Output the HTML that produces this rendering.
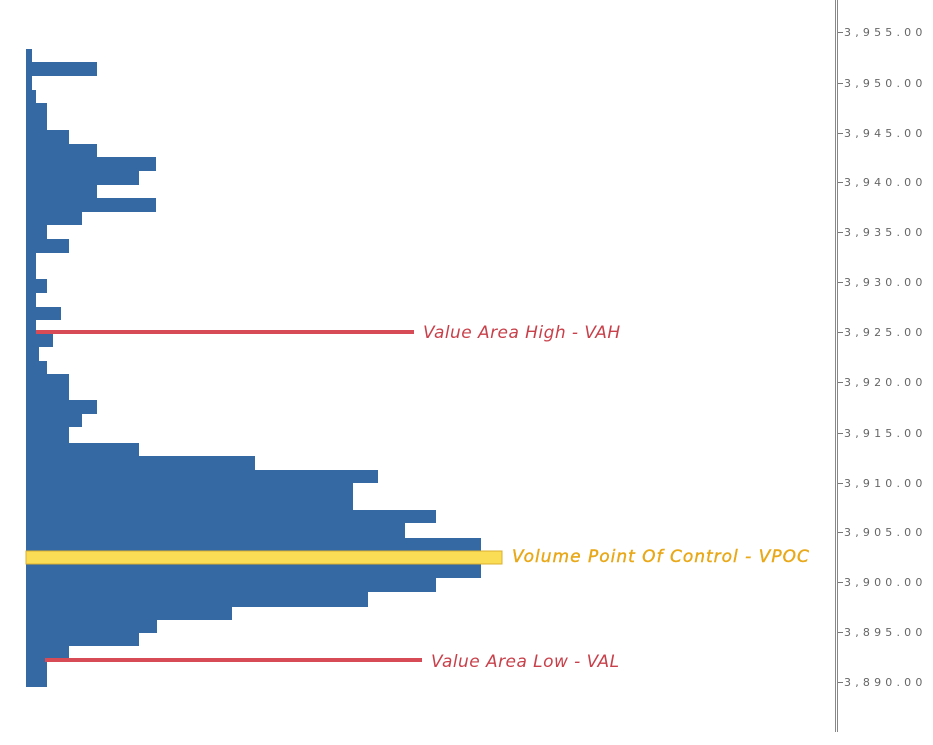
<!DOCTYPE html>
<html><head><meta charset="utf-8"><style>
html,body{margin:0;padding:0;background:#fff;width:933px;height:745px;overflow:hidden}
svg{display:block}
.t{font-family:"DejaVu Sans","Liberation Sans",sans-serif;font-size:11px;fill:#666;letter-spacing:4.2px}
.l{font-family:"DejaVu Sans","Liberation Sans",sans-serif;font-size:17px;font-style:italic;letter-spacing:0.45px}
</style></head><body>
<svg width="933" height="745" viewBox="0 0 933 745">
<g fill="#3469a3">
<rect x="26" y="49" width="6" height="13"/>
<rect x="26" y="62" width="71" height="14"/>
<rect x="26" y="76" width="6" height="14"/>
<rect x="26" y="90" width="10" height="13"/>
<rect x="26" y="103" width="21" height="27"/>
<rect x="26" y="130" width="43" height="14"/>
<rect x="26" y="144" width="71" height="13"/>
<rect x="26" y="157" width="130" height="14"/>
<rect x="26" y="171" width="113" height="14"/>
<rect x="26" y="185" width="71" height="13"/>
<rect x="26" y="198" width="130" height="14"/>
<rect x="26" y="212" width="56" height="13"/>
<rect x="26" y="225" width="21" height="14"/>
<rect x="26" y="239" width="43" height="14"/>
<rect x="26" y="253" width="10" height="26"/>
<rect x="26" y="279" width="21" height="14"/>
<rect x="26" y="293" width="10" height="14"/>
<rect x="26" y="307" width="35" height="13"/>
<rect x="26" y="320" width="10" height="13"/>
<rect x="26" y="333" width="27" height="14"/>
<rect x="26" y="347" width="13" height="14"/>
<rect x="26" y="361" width="21" height="13"/>
<rect x="26" y="374" width="43" height="26"/>
<rect x="26" y="400" width="71" height="14"/>
<rect x="26" y="414" width="56" height="13"/>
<rect x="26" y="427" width="43" height="16"/>
<rect x="26" y="443" width="113" height="13"/>
<rect x="26" y="456" width="229" height="14"/>
<rect x="26" y="470" width="352" height="13"/>
<rect x="26" y="483" width="327" height="27"/>
<rect x="26" y="510" width="410" height="13"/>
<rect x="26" y="523" width="379" height="15"/>
<rect x="26" y="538" width="455" height="40"/>
<rect x="26" y="578" width="410" height="14"/>
<rect x="26" y="592" width="342" height="15"/>
<rect x="26" y="607" width="206" height="13"/>
<rect x="26" y="620" width="131" height="13"/>
<rect x="26" y="633" width="113" height="13"/>
<rect x="26" y="646" width="43" height="14"/>
<rect x="26" y="660" width="21" height="27"/>
</g>
<rect x="26" y="551" width="476" height="13" fill="#fbdc55" stroke="#d8b030" stroke-width="1"/>
<rect x="36" y="330" width="378" height="4" fill="#d64b55"/>
<rect x="45" y="658" width="377" height="4" fill="#d64b55"/>
<text class="l" x="423" y="338" fill="#c8404a">Value Area High - VAH</text>
<text class="l" x="512" y="562" fill="#e8a818" stroke="#e8a818" stroke-width="0.4" style="letter-spacing:1px">Volume Point Of Control - VPOC</text>
<text class="l" x="431" y="667" fill="#c8404a">Value Area Low - VAL</text>
<rect x="835" y="0" width="1" height="732" fill="#888"/>
<rect x="837" y="0" width="1" height="732" fill="#888"/>
<g fill="#777">
<rect x="838" y="32" width="5" height="1"/><rect x="838" y="83" width="5" height="1"/>
<rect x="838" y="133" width="5" height="1"/><rect x="838" y="182" width="5" height="1"/>
<rect x="838" y="232" width="5" height="1"/><rect x="838" y="282" width="5" height="1"/>
<rect x="838" y="332" width="5" height="1"/><rect x="838" y="382" width="5" height="1"/>
<rect x="838" y="433" width="5" height="1"/><rect x="838" y="483" width="5" height="1"/>
<rect x="838" y="532" width="5" height="1"/><rect x="838" y="582" width="5" height="1"/>
<rect x="838" y="632" width="5" height="1"/><rect x="838" y="682" width="5" height="1"/>
</g>
<g class="t">
<text x="844" y="36">3,955.00</text><text x="844" y="87">3,950.00</text>
<text x="844" y="137">3,945.00</text><text x="844" y="186">3,940.00</text>
<text x="844" y="236">3,935.00</text><text x="844" y="286">3,930.00</text>
<text x="844" y="336">3,925.00</text><text x="844" y="386">3,920.00</text>
<text x="844" y="437">3,915.00</text><text x="844" y="487">3,910.00</text>
<text x="844" y="536">3,905.00</text><text x="844" y="586">3,900.00</text>
<text x="844" y="636">3,895.00</text><text x="844" y="686">3,890.00</text>
</g>
</svg>
</body></html>
